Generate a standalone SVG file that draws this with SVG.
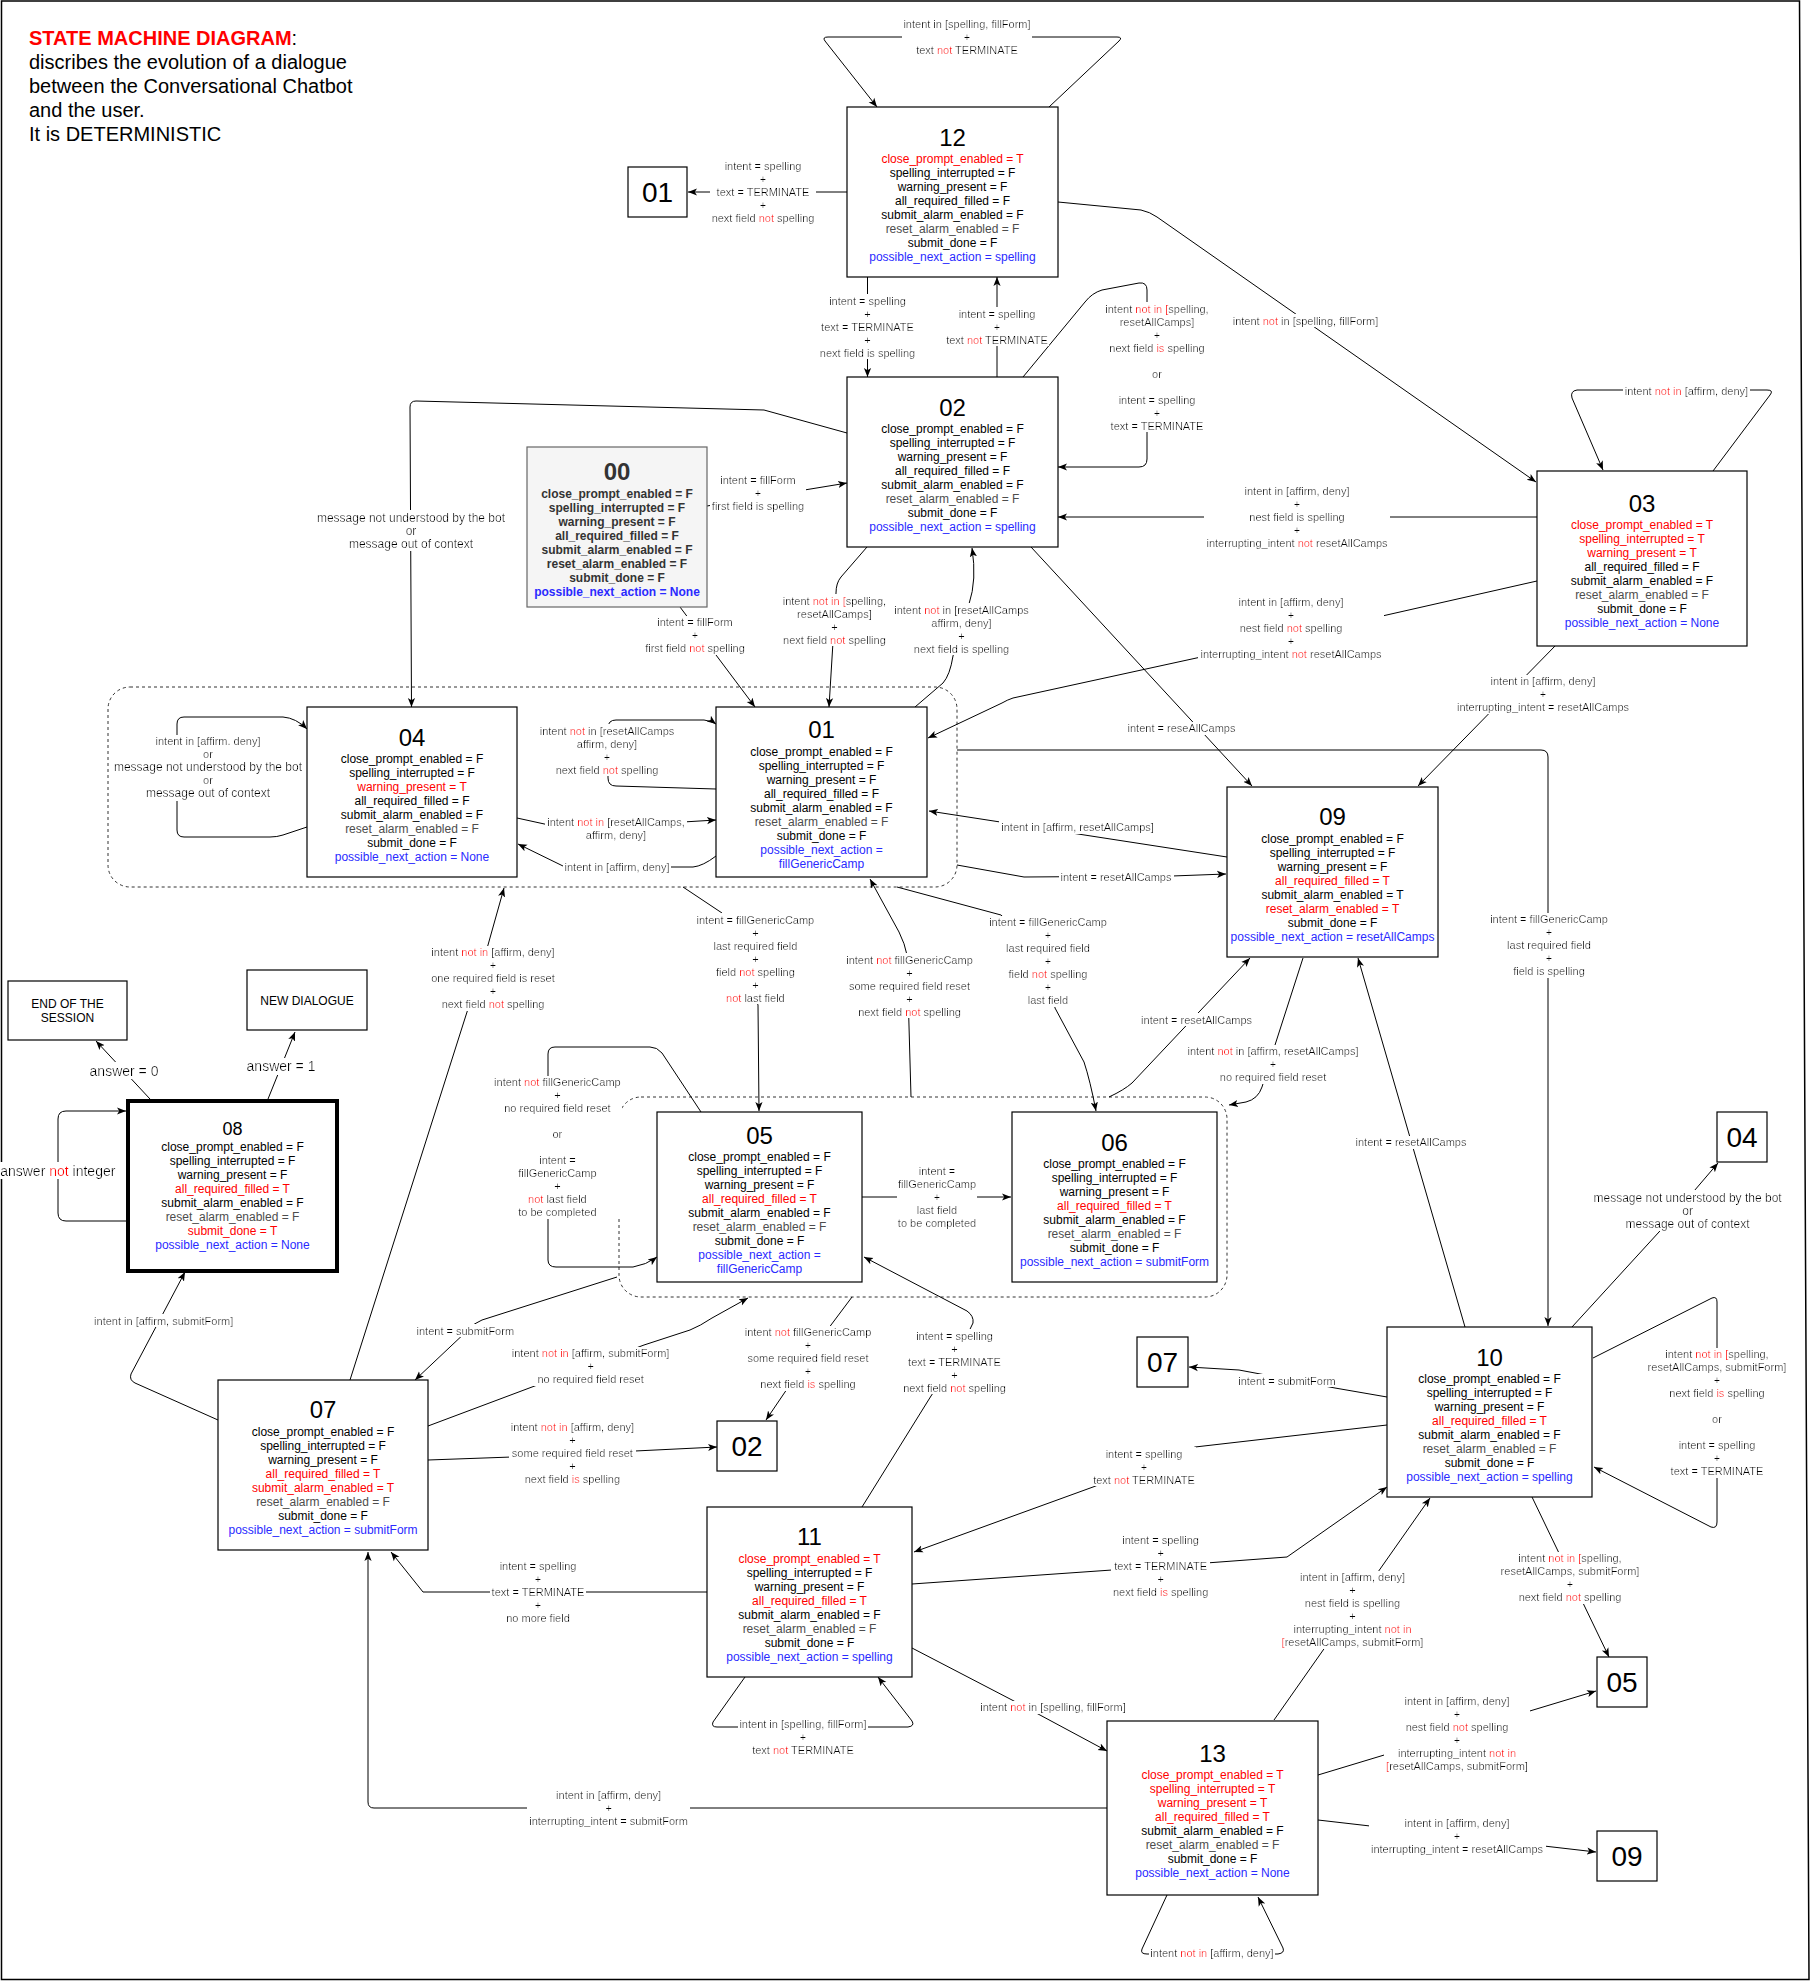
<svg xmlns="http://www.w3.org/2000/svg" width="1812" height="1981" viewBox="0 0 1812 1981">
<defs>
<style>
text{font-family:"Liberation Sans",Arial,sans-serif;fill:#000}
.frame{fill:#fff;stroke:#000;stroke-width:1.5}
.grp{fill:none;stroke:#333;stroke-dasharray:3 3}
.box rect{fill:#fff;stroke:#000;stroke-width:1.2}
.c path{fill:none;stroke:#000;stroke-width:1;marker-end:url(#ah)}
.t{font-size:24px;text-anchor:middle}
.s{font-size:28px;text-anchor:middle}
.a{font-size:12px;text-anchor:middle}
.l{font-size:11px;text-anchor:middle;filter:url(#bg)}
.m{font-size:12px}
.k{font-size:14px}
.r{fill:#ff0000}
.b{fill:#2a2aff}
.g{fill:#4d4d4d}
.h{font-size:20px}
</style>
<filter id="bg" x="-0.01" y="0" width="1.02" height="1"><feFlood flood-color="#fff"/><feComposite in="SourceGraphic" operator="over"/></filter>
<marker id="ah" viewBox="0 0 10 10" refX="10" refY="5" markerWidth="9" markerHeight="9" markerUnits="userSpaceOnUse" orient="auto"><path d="M0,1 L10,5 L0,9 L2.5,5 z" fill="#000"/></marker>
</defs>
<polygon class="frame" points="1.5,1 1799.5,1 1809,1979.5 1.5,1979.5"/>
<g id="heading">
<text class="h" x="29" y="44.5"><tspan class="r" font-weight="bold">STATE MACHINE DIAGRAM</tspan>:<tspan x="29" dy="24">discribes the evolution of a dialogue</tspan><tspan x="29" dy="24">between the Conversational Chatbot</tspan><tspan x="29" dy="24">and the user.</tspan><tspan x="29" dy="24">It is DETERMINISTIC</tspan></text>
</g>
<g id="groups">
<rect class="grp" x="108" y="687" width="849" height="200" rx="22"/>
<rect class="grp" x="619" y="1097" width="608" height="200" rx="22"/>
</g>
<g id="connectors" class="c">
<path d="M1049,107 L1119,41 Q1123,37 1117,37 L828,37 Q822,37 825,41 L877,107"/>
<path d="M847,192 L688,192"/>
<path d="M867.5,277 L867.5,377"/>
<path d="M997,377 L997,277"/>
<path d="M1023,377 L1085,302 Q1092,293 1102,290 L1139,283 Q1147,282 1147,290 L1147,459 Q1147,467 1139,467 L1058,467"/>
<path d="M847,433 L764,410 L416,401 Q410,401 410,407 L411.5,707"/>
<path d="M307,827 L283,835 Q277,837 270,837 L184,837 Q177,837 177,830 L177,724 Q177,717 184,717 L283,717 Q296,718 307,729"/>
<path d="M707,506 L847,483"/>
<path d="M680,607 L755,707"/>
<path d="M867,547 L841,577 Q836,583 836,593 L829,707"/>
<path d="M915,707 L943,683 Q950,675 953,656 L969,604 Q977,580 972,548"/>
<path d="M1058,202 L1141,210 Q1150,212 1157,217 L1536,482"/>
<path d="M1713,471 L1770,395 Q1774,390 1767,390 L1577,390 Q1570,391 1572,398 L1603,470"/>
<path d="M1537,517 L1058,517"/>
<path d="M1537,581 L1201,657 L1013,698 Q1007,700 1002,703 L928,738"/>
<path d="M1031,547 L1252,786"/>
<path d="M1556,645 L1418,786"/>
<path d="M1227,857 L929,811"/>
<path d="M957,865 L1024,877 L1172,876 L1226,874"/>
<path d="M957,750 L1541,750 Q1548,750 1548,757 L1548,1326"/>
<path d="M683,887 L722,913 L758,1005 L759,1111"/>
<path d="M911,1097 L907,955 Q905,944 899,932 L870,879"/>
<path d="M897,887 L1001,915 L1048,960 L1055,1008 L1084,1062 Q1090,1080 1096,1111"/>
<path d="M862,1197 L1011,1197"/>
<path d="M701,1112 L662,1053 Q657,1047 650,1047 L555,1047 Q548,1047 548,1054 L548,1260 Q548,1267 556,1267 L633,1267 Q646,1265 657,1257"/>
<path d="M617,1277 L482,1320 Q474,1323 468,1330 L415,1380"/>
<path d="M428,1426 L644,1345 L690,1330 Q700,1326 712,1318 L748,1298"/>
<path d="M428,1460 L512,1457 L717,1447"/>
<path d="M852,1297 L831,1325 L785,1392 L766,1420"/>
<path d="M862,1507 L931,1396 L955,1360 L973,1323 Q974,1316 967,1311 L864,1257"/>
<path d="M1387,1397 L1335,1388 L1239,1370 L1189,1367"/>
<path d="M1387,1425 L1195,1447 L1093,1487 L914,1552"/>
<path d="M912,1584 L1112,1570 L1287,1557 L1387,1487"/>
<path d="M1465,1327 L1358,958"/>
<path d="M1109,1097 Q1124,1090 1132,1083 L1250,958"/>
<path d="M1303,958 L1275,1045 L1262,1087 Q1258,1099 1246,1102 L1229,1105"/>
<path d="M1572,1327 L1659,1232 L1718,1163"/>
<path d="M1593,1358 L1712,1298 Q1717,1296 1717,1302 L1717,1522 Q1717,1529 1711,1527 L1594,1467"/>
<path d="M1532,1497 L1609,1657"/>
<path d="M1274,1720 L1430,1498"/>
<path d="M1318,1775 L1596,1691"/>
<path d="M1318,1820 L1596,1852"/>
<path d="M1167,1895 L1142,1949 Q1140,1954 1147,1954 L1278,1954 Q1285,1953 1283,1948 L1258,1897"/>
<path d="M912,1648 L1012,1700 L1107,1751"/>
<path d="M745,1677 L713,1722 Q711,1727 717,1727 L908,1727 Q915,1726 912,1721 L878,1677"/>
<path d="M707,1592 L423,1592 L391,1552"/>
<path d="M1107,1808 L374,1808 Q368,1808 368,1802 L368,1552"/>
<path d="M218,1420 L135,1383 Q129,1380 131,1374 L185,1272"/>
<path d="M128,1221 L66,1221 Q58,1221 58,1213 L58,1119 Q58,1111 66,1111 L126,1111"/>
<path d="M150,1099 L96,1041"/>
<path d="M268,1099 L295,1032"/>
<path d="M350,1380 L467,1012 L488,945 L504,888"/>
<path d="M517,818 L549,825 L683,822 L716,820"/>
<path d="M716,856 Q703,866 693,867 L565,867 L518,844"/>
<path d="M716,789 L616,786 Q608,786 608,778 L608,728 Q608,720 616,720 L704,720 Q712,721 716,724"/>
</g>
<g id="n12" class="box"><rect x="847" y="107" width="211" height="170"/><text class="t" x="952.5" y="145.7">12</text><text class="a" x="952.5" y="162.9"><tspan class="r">close_prompt_enabled = T</tspan><tspan x="952.5" dy="14">spelling_interrupted = F</tspan><tspan x="952.5" dy="14">warning_present = F</tspan><tspan x="952.5" dy="14">all_required_filled = F</tspan><tspan x="952.5" dy="14">submit_alarm_enabled = F</tspan><tspan x="952.5" dy="14" class="g">reset_alarm_enabled = F</tspan><tspan x="952.5" dy="14">submit_done = F</tspan><tspan x="952.5" dy="14" class="b">possible_next_action = spelling</tspan></text></g>
<g id="n02" class="box"><rect x="847" y="377" width="211" height="170"/><text class="t" x="952.5" y="415.7">02</text><text class="a" x="952.5" y="432.9"><tspan>close_prompt_enabled = F</tspan><tspan x="952.5" dy="14">spelling_interrupted = F</tspan><tspan x="952.5" dy="14">warning_present = F</tspan><tspan x="952.5" dy="14">all_required_filled = F</tspan><tspan x="952.5" dy="14">submit_alarm_enabled = F</tspan><tspan x="952.5" dy="14" class="g">reset_alarm_enabled = F</tspan><tspan x="952.5" dy="14">submit_done = F</tspan><tspan x="952.5" dy="14" class="b">possible_next_action = spelling</tspan></text></g>
<g id="n00" class="box"><rect x="527" y="447" width="180" height="160" style="fill:#f5f5f5;stroke:#666"/><text class="t" x="617" y="480.1" font-weight="bold" style="fill:#333">00</text><text class="a" x="617" y="497.5" font-weight="bold" style="fill:#333"><tspan>close_prompt_enabled = F</tspan><tspan x="617" dy="14">spelling_interrupted = F</tspan><tspan x="617" dy="14">warning_present = F</tspan><tspan x="617" dy="14">all_required_filled = F</tspan><tspan x="617" dy="14">submit_alarm_enabled = F</tspan><tspan x="617" dy="14">reset_alarm_enabled = F</tspan><tspan x="617" dy="14">submit_done = F</tspan><tspan x="617" dy="14" class="b">possible_next_action = None</tspan></text></g>
<g id="n01" class="box"><rect x="716" y="707" width="211" height="170"/><text class="t" x="821.5" y="738.4">01</text><text class="a" x="821.5" y="755.9"><tspan>close_prompt_enabled = F</tspan><tspan x="821.5" dy="14">spelling_interrupted = F</tspan><tspan x="821.5" dy="14">warning_present = F</tspan><tspan x="821.5" dy="14">all_required_filled = F</tspan><tspan x="821.5" dy="14">submit_alarm_enabled = F</tspan><tspan x="821.5" dy="14" class="g">reset_alarm_enabled = F</tspan><tspan x="821.5" dy="14">submit_done = F</tspan><tspan x="821.5" dy="14" class="b">possible_next_action =</tspan><tspan x="821.5" dy="14" class="b">fillGenericCamp</tspan></text></g>
<g id="n04" class="box"><rect x="307" y="707" width="210" height="170"/><text class="t" x="412" y="745.7">04</text><text class="a" x="412" y="762.9"><tspan>close_prompt_enabled = F</tspan><tspan x="412" dy="14">spelling_interrupted = F</tspan><tspan x="412" dy="14" class="r">warning_present = T</tspan><tspan x="412" dy="14">all_required_filled = F</tspan><tspan x="412" dy="14">submit_alarm_enabled = F</tspan><tspan x="412" dy="14" class="g">reset_alarm_enabled = F</tspan><tspan x="412" dy="14">submit_done = F</tspan><tspan x="412" dy="14" class="b">possible_next_action = None</tspan></text></g>
<g id="n03" class="box"><rect x="1537" y="471" width="210" height="175"/><text class="t" x="1642" y="511.7">03</text><text class="a" x="1642" y="528.9"><tspan class="r">close_prompt_enabled = T</tspan><tspan x="1642" dy="14" class="r">spelling_interrupted = T</tspan><tspan x="1642" dy="14" class="r">warning_present = T</tspan><tspan x="1642" dy="14">all_required_filled = F</tspan><tspan x="1642" dy="14">submit_alarm_enabled = F</tspan><tspan x="1642" dy="14" class="g">reset_alarm_enabled = F</tspan><tspan x="1642" dy="14">submit_done = F</tspan><tspan x="1642" dy="14" class="b">possible_next_action = None</tspan></text></g>
<g id="n09" class="box"><rect x="1227" y="787" width="211" height="170"/><text class="t" x="1332.5" y="825.1">09</text><text class="a" x="1332.5" y="842.9"><tspan>close_prompt_enabled = F</tspan><tspan x="1332.5" dy="14">spelling_interrupted = F</tspan><tspan x="1332.5" dy="14">warning_present = F</tspan><tspan x="1332.5" dy="14" class="r">all_required_filled = T</tspan><tspan x="1332.5" dy="14">submit_alarm_enabled = T</tspan><tspan x="1332.5" dy="14" class="r">reset_alarm_enabled = T</tspan><tspan x="1332.5" dy="14">submit_done = F</tspan><tspan x="1332.5" dy="14" class="b">possible_next_action = resetAllCamps</tspan></text></g>
<g id="n05" class="box"><rect x="657" y="1112" width="205" height="170"/><text class="t" x="759.5" y="1143.7">05</text><text class="a" x="759.5" y="1160.9"><tspan>close_prompt_enabled = F</tspan><tspan x="759.5" dy="14">spelling_interrupted = F</tspan><tspan x="759.5" dy="14">warning_present = F</tspan><tspan x="759.5" dy="14" class="r">all_required_filled = T</tspan><tspan x="759.5" dy="14">submit_alarm_enabled = F</tspan><tspan x="759.5" dy="14" class="g">reset_alarm_enabled = F</tspan><tspan x="759.5" dy="14">submit_done = F</tspan><tspan x="759.5" dy="14" class="b">possible_next_action =</tspan><tspan x="759.5" dy="14" class="b">fillGenericCamp</tspan></text></g>
<g id="n06" class="box"><rect x="1012" y="1112" width="205" height="170"/><text class="t" x="1114.5" y="1150.7">06</text><text class="a" x="1114.5" y="1167.9"><tspan>close_prompt_enabled = F</tspan><tspan x="1114.5" dy="14">spelling_interrupted = F</tspan><tspan x="1114.5" dy="14">warning_present = F</tspan><tspan x="1114.5" dy="14" class="r">all_required_filled = T</tspan><tspan x="1114.5" dy="14">submit_alarm_enabled = F</tspan><tspan x="1114.5" dy="14" class="g">reset_alarm_enabled = F</tspan><tspan x="1114.5" dy="14">submit_done = F</tspan><tspan x="1114.5" dy="14" class="b">possible_next_action = submitForm</tspan></text></g>
<g id="n08" class="box"><rect x="128" y="1101" width="209" height="170" style="stroke-width:4"/><text class="t" x="232.5" y="1134.6" style="font-size:18px">08</text><text class="a" x="232.5" y="1150.9"><tspan>close_prompt_enabled = F</tspan><tspan x="232.5" dy="14">spelling_interrupted = F</tspan><tspan x="232.5" dy="14">warning_present = F</tspan><tspan x="232.5" dy="14" class="r">all_required_filled = T</tspan><tspan x="232.5" dy="14">submit_alarm_enabled = F</tspan><tspan x="232.5" dy="14" class="g">reset_alarm_enabled = F</tspan><tspan x="232.5" dy="14" class="r">submit_done = T</tspan><tspan x="232.5" dy="14" class="b">possible_next_action = None</tspan></text></g>
<g id="n07" class="box"><rect x="218" y="1380" width="210" height="170"/><text class="t" x="323" y="1418.4">07</text><text class="a" x="323" y="1435.9"><tspan>close_prompt_enabled = F</tspan><tspan x="323" dy="14">spelling_interrupted = F</tspan><tspan x="323" dy="14">warning_present = F</tspan><tspan x="323" dy="14" class="r">all_required_filled = T</tspan><tspan x="323" dy="14" class="r">submit_alarm_enabled = T</tspan><tspan x="323" dy="14" class="g">reset_alarm_enabled = F</tspan><tspan x="323" dy="14">submit_done = F</tspan><tspan x="323" dy="14" class="b">possible_next_action = submitForm</tspan></text></g>
<g id="n10" class="box"><rect x="1387" y="1327" width="205" height="170"/><text class="t" x="1489.5" y="1366.1">10</text><text class="a" x="1489.5" y="1382.9"><tspan>close_prompt_enabled = F</tspan><tspan x="1489.5" dy="14">spelling_interrupted = F</tspan><tspan x="1489.5" dy="14">warning_present = F</tspan><tspan x="1489.5" dy="14" class="r">all_required_filled = T</tspan><tspan x="1489.5" dy="14">submit_alarm_enabled = F</tspan><tspan x="1489.5" dy="14" class="g">reset_alarm_enabled = F</tspan><tspan x="1489.5" dy="14">submit_done = F</tspan><tspan x="1489.5" dy="14" class="b">possible_next_action = spelling</tspan></text></g>
<g id="n11" class="box"><rect x="707" y="1507" width="205" height="170"/><text class="t" x="809.5" y="1545.1">11</text><text class="a" x="809.5" y="1562.9"><tspan class="r">close_prompt_enabled = T</tspan><tspan x="809.5" dy="14">spelling_interrupted = F</tspan><tspan x="809.5" dy="14">warning_present = F</tspan><tspan x="809.5" dy="14" class="r">all_required_filled = T</tspan><tspan x="809.5" dy="14">submit_alarm_enabled = F</tspan><tspan x="809.5" dy="14" class="g">reset_alarm_enabled = F</tspan><tspan x="809.5" dy="14">submit_done = F</tspan><tspan x="809.5" dy="14" class="b">possible_next_action = spelling</tspan></text></g>
<g id="n13" class="box"><rect x="1107" y="1721" width="211" height="174"/><text class="t" x="1212.5" y="1761.7">13</text><text class="a" x="1212.5" y="1779.2"><tspan class="r">close_prompt_enabled = T</tspan><tspan x="1212.5" dy="14" class="r">spelling_interrupted = T</tspan><tspan x="1212.5" dy="14" class="r">warning_present = T</tspan><tspan x="1212.5" dy="14" class="r">all_required_filled = T</tspan><tspan x="1212.5" dy="14">submit_alarm_enabled = F</tspan><tspan x="1212.5" dy="14" class="g">reset_alarm_enabled = F</tspan><tspan x="1212.5" dy="14">submit_done = F</tspan><tspan x="1212.5" dy="14" class="b">possible_next_action = None</tspan></text></g>
<g id="ref01" class="box"><rect x="628" y="167" width="59" height="50"/><text class="s" x="657.5" y="201.8">01</text></g>
<g id="ref02" class="box"><rect x="717" y="1421" width="60" height="50"/><text class="s" x="747" y="1455.8">02</text></g>
<g id="ref07" class="box"><rect x="1137" y="1337" width="51" height="50"/><text class="s" x="1162.5" y="1371.8">07</text></g>
<g id="ref04" class="box"><rect x="1717" y="1112" width="50" height="50"/><text class="s" x="1742" y="1146.8">04</text></g>
<g id="ref05" class="box"><rect x="1597" y="1657" width="50" height="50"/><text class="s" x="1622" y="1691.8">05</text></g>
<g id="ref09" class="box"><rect x="1597" y="1831" width="60" height="50"/><text class="s" x="1627" y="1865.8">09</text></g>
<g id="end" class="box"><rect x="8" y="981" width="119" height="59"/><text class="a" x="67.5" y="1007.5">END OF THE<tspan x="67.5" dy="14">SESSION</tspan></text></g>
<g id="new" class="box"><rect x="247" y="970" width="120" height="60"/><text class="a" x="307" y="1004.9">NEW DIALOGUE</text></g>
<g id="connector-labels">
<text class="l" x="967" y="28.2">intent in [spelling, fillForm]<tspan x="967" dy="13">+</tspan><tspan x="967" dy="13">text  <tspan class="r">not</tspan> TERMINATE</tspan></text>
<text class="l" x="763" y="169.9">intent = spelling<tspan x="763" dy="13">+</tspan><tspan x="763" dy="13">text = TERMINATE</tspan><tspan x="763" dy="13">+</tspan><tspan x="763" dy="13">next field <tspan class="r">not</tspan> spelling</tspan></text>
<text class="l" x="867.5" y="304.9">intent = spelling<tspan x="867.5" dy="13">+</tspan><tspan x="867.5" dy="13">text = TERMINATE</tspan><tspan x="867.5" dy="13">+</tspan><tspan x="867.5" dy="13">next field is spelling</tspan></text>
<text class="l" x="997" y="317.9">intent = spelling<tspan x="997" dy="13">+</tspan><tspan x="997" dy="13">text <tspan class="r">not</tspan> TERMINATE</tspan></text>
<text class="l" x="1157" y="312.9">intent <tspan class="r">not in [</tspan>spelling,<tspan x="1157" dy="13">resetAllCamps]</tspan><tspan x="1157" dy="13">+</tspan><tspan x="1157" dy="13">next field <tspan class="r">is</tspan> spelling</tspan><tspan x="1157" dy="26">or</tspan><tspan x="1157" dy="26">intent = spelling</tspan><tspan x="1157" dy="13">+</tspan><tspan x="1157" dy="13">text = TERMINATE</tspan></text>
<text class="l m" x="411" y="521.5">message not understood by the bot<tspan x="411" dy="13">or</tspan><tspan x="411" dy="13">message out of context</tspan></text>
<text class="l" x="208" y="745.2">intent in [affirm. deny]<tspan x="208" dy="13">or</tspan><tspan x="208" dy="13" class="m">message not understood by the bot</tspan><tspan x="208" dy="13">or</tspan><tspan x="208" dy="13" class="m">message out of context</tspan></text>
<text class="l" x="758" y="483.9">intent = fillForm<tspan x="758" dy="13">+</tspan><tspan x="758" dy="13">first field is spelling</tspan></text>
<text class="l" x="695" y="626.2">intent = fillForm<tspan x="695" dy="13">+</tspan><tspan x="695" dy="13">first field <tspan class="r">not</tspan> spelling</tspan></text>
<text class="l" x="834.4" y="604.9">intent <tspan class="r">not in [</tspan>spelling,<tspan x="834.4" dy="13">resetAllCamps]</tspan><tspan x="834.4" dy="13">+</tspan><tspan x="834.4" dy="13">next field <tspan class="r">not</tspan> spelling</tspan></text>
<text class="l" x="961.5" y="613.9">intent <tspan class="r">not</tspan> in [resetAllCamps<tspan x="961.5" dy="13">affirm, deny]</tspan><tspan x="961.5" dy="13">+</tspan><tspan x="961.5" dy="13">next field is spelling</tspan></text>
<text class="l" x="1305.5" y="324.9">intent <tspan class="r">not</tspan> in [spelling, fillForm]</text>
<text class="l" x="1686.4" y="394.6">intent <tspan class="r">not in</tspan> [affirm, deny]</text>
<text class="l" x="1297" y="494.9">intent in [affirm, deny]<tspan x="1297" dy="13">+</tspan><tspan x="1297" dy="13">nest field is spelling</tspan><tspan x="1297" dy="13">+</tspan><tspan x="1297" dy="13">interrupting_intent <tspan class="r">not</tspan> resetAllCamps</tspan></text>
<text class="l" x="1291" y="605.9">intent in [affirm, deny]<tspan x="1291" dy="13">+</tspan><tspan x="1291" dy="13">nest field <tspan class="r">not</tspan> spelling</tspan><tspan x="1291" dy="13">+</tspan><tspan x="1291" dy="13">interrupting_intent <tspan class="r">not</tspan> resetAllCamps</tspan></text>
<text class="l" x="1181.5" y="732.2">intent = reseAllCamps</text>
<text class="l" x="1543" y="685.2">intent in [affirm, deny]<tspan x="1543" dy="13">+</tspan><tspan x="1543" dy="13">interrupting_intent = resetAllCamps</tspan></text>
<text class="l" x="1077.6" y="831.2">intent in [affirm, resetAllCamps]</text>
<text class="l" x="1116" y="881.2">intent = resetAllCamps</text>
<text class="l" x="1549" y="923.2">intent = fillGenericCamp<tspan x="1549" dy="13">+</tspan><tspan x="1549" dy="13">last required field</tspan><tspan x="1549" dy="13">+</tspan><tspan x="1549" dy="13">field is spelling</tspan></text>
<text class="l" x="755.4" y="923.9">intent = fillGenericCamp<tspan x="755.4" dy="13">+</tspan><tspan x="755.4" dy="13">last required field</tspan><tspan x="755.4" dy="13">+</tspan><tspan x="755.4" dy="13">field <tspan class="r">not</tspan> spelling</tspan><tspan x="755.4" dy="13">+</tspan><tspan x="755.4" dy="13"><tspan class="r">not</tspan> last field</tspan></text>
<text class="l" x="909.5" y="963.9">intent <tspan class="r">not</tspan> fillGenericCamp<tspan x="909.5" dy="13">+</tspan><tspan x="909.5" dy="13">some required field reset</tspan><tspan x="909.5" dy="13">+</tspan><tspan x="909.5" dy="13">next field <tspan class="r">not</tspan> spelling</tspan></text>
<text class="l" x="1048" y="926.2">intent = fillGenericCamp<tspan x="1048" dy="13">+</tspan><tspan x="1048" dy="13">last required field</tspan><tspan x="1048" dy="13">+</tspan><tspan x="1048" dy="13">field <tspan class="r">not</tspan> spelling</tspan><tspan x="1048" dy="13">+</tspan><tspan x="1048" dy="13">last field</tspan></text>
<text class="l" x="937" y="1175.2">intent =<tspan x="937" dy="13">fillGenericCamp</tspan><tspan x="937" dy="13">+</tspan><tspan x="937" dy="13">last field</tspan><tspan x="937" dy="13">to be completed</tspan></text>
<text class="l" x="557.4" y="1086.2">intent <tspan class="r">not</tspan> fillGenericCamp<tspan x="557.4" dy="13">+</tspan><tspan x="557.4" dy="13">no required field reset</tspan><tspan x="557.4" dy="26">or</tspan><tspan x="557.4" dy="26">intent =</tspan><tspan x="557.4" dy="13">fillGenericCamp</tspan><tspan x="557.4" dy="13">+</tspan><tspan x="557.4" dy="13"><tspan class="r">not</tspan> last field</tspan><tspan x="557.4" dy="13">to be completed</tspan></text>
<text class="l" x="465.3" y="1334.9">intent = submitForm</text>
<text class="l" x="590.6" y="1357.2">intent <tspan class="r">not in</tspan> [affirm, submitForm]<tspan x="590.6" dy="13">+</tspan><tspan x="590.6" dy="13">no required field reset</tspan></text>
<text class="l" x="572.4" y="1431.2">intent <tspan class="r">not in</tspan> [affirm, deny]<tspan x="572.4" dy="13">+</tspan><tspan x="572.4" dy="13">some required field reset</tspan><tspan x="572.4" dy="13">+</tspan><tspan x="572.4" dy="13">next field <tspan class="r">is</tspan> spelling</tspan></text>
<text class="l" x="808" y="1336.2">intent <tspan class="r">not</tspan> fillGenericCamp<tspan x="808" dy="13">+</tspan><tspan x="808" dy="13">some required field reset</tspan><tspan x="808" dy="13">+</tspan><tspan x="808" dy="13">next field <tspan class="r">is</tspan> spelling</tspan></text>
<text class="l" x="954.5" y="1339.9">intent = spelling<tspan x="954.5" dy="13">+</tspan><tspan x="954.5" dy="13">text = TERMINATE</tspan><tspan x="954.5" dy="13">+</tspan><tspan x="954.5" dy="13">next field <tspan class="r">not</tspan> spelling</tspan></text>
<text class="l" x="1287" y="1384.9">intent = submitForm</text>
<text class="l" x="1144" y="1457.9">intent = spelling<tspan x="1144" dy="13">+</tspan><tspan x="1144" dy="13">text <tspan class="r">not</tspan> TERMINATE</tspan></text>
<text class="l" x="1160.6" y="1544.2">intent = spelling<tspan x="1160.6" dy="13">+</tspan><tspan x="1160.6" dy="13">text = TERMINATE</tspan><tspan x="1160.6" dy="13">+</tspan><tspan x="1160.6" dy="13">next field <tspan class="r">is</tspan> spelling</tspan></text>
<text class="l" x="1411" y="1146.2">intent = resetAllCamps</text>
<text class="l" x="1196.6" y="1023.6">intent = resetAllCamps</text>
<text class="l" x="1273" y="1055.2">intent  <tspan class="r">not</tspan> in [affirm, resetAllCamps]<tspan x="1273" dy="13">+</tspan><tspan x="1273" dy="13">no required field reset</tspan></text>
<text class="l m" x="1687.6" y="1201.5">message not understood by the bot<tspan x="1687.6" dy="13">or</tspan><tspan x="1687.6" dy="13">message out of context</tspan></text>
<text class="l" x="1717" y="1358.2">intent <tspan class="r">not in [</tspan>spelling,<tspan x="1717" dy="13">resetAllCamps, submitForm]</tspan><tspan x="1717" dy="13">+</tspan><tspan x="1717" dy="13">next field <tspan class="r">is</tspan> spelling</tspan><tspan x="1717" dy="26">or</tspan><tspan x="1717" dy="26">intent = spelling</tspan><tspan x="1717" dy="13">+</tspan><tspan x="1717" dy="13">text = TERMINATE</tspan></text>
<text class="l" x="1570" y="1562.2">intent <tspan class="r">not in [</tspan>spelling,<tspan x="1570" dy="13">resetAllCamps, submitForm]</tspan><tspan x="1570" dy="13">+</tspan><tspan x="1570" dy="13">next field <tspan class="r">not</tspan> spelling</tspan></text>
<text class="l" x="1352.5" y="1581.2">intent in [affirm, deny]<tspan x="1352.5" dy="13">+</tspan><tspan x="1352.5" dy="13">nest field is spelling</tspan><tspan x="1352.5" dy="13">+</tspan><tspan x="1352.5" dy="13">interrupting_intent <tspan class="r">not in</tspan></tspan><tspan x="1352.5" dy="13"><tspan class="r">[</tspan>resetAllCamps, submitForm]</tspan></text>
<text class="l" x="1457" y="1704.9">intent in [affirm, deny]<tspan x="1457" dy="13">+</tspan><tspan x="1457" dy="13">nest field <tspan class="r">not</tspan> spelling</tspan><tspan x="1457" dy="13">+</tspan><tspan x="1457" dy="13">interrupting_intent <tspan class="r">not in</tspan></tspan><tspan x="1457" dy="13"><tspan class="r">[</tspan>resetAllCamps, submitForm]</tspan></text>
<text class="l" x="1457" y="1827.2">intent in [affirm, deny]<tspan x="1457" dy="13">+</tspan><tspan x="1457" dy="13">interrupting_intent = resetAllCamps</tspan></text>
<text class="l" x="1212" y="1957.4">intent <tspan class="r">not in</tspan> [affirm, deny]</text>
<text class="l" x="1053" y="1711.2">intent <tspan class="r">not</tspan> in [spelling, fillForm]</text>
<text class="l" x="803" y="1727.9">intent in [spelling, fillForm]<tspan x="803" dy="13">+</tspan><tspan x="803" dy="13">text  <tspan class="r">not</tspan> TERMINATE</tspan></text>
<text class="l" x="538" y="1569.9">intent = spelling<tspan x="538" dy="13">+</tspan><tspan x="538" dy="13">text = TERMINATE</tspan><tspan x="538" dy="13">+</tspan><tspan x="538" dy="13">no more field</tspan></text>
<text class="l" x="608.6" y="1798.9">intent in [affirm, deny]<tspan x="608.6" dy="13">+</tspan><tspan x="608.6" dy="13">interrupting_intent = submitForm</tspan></text>
<text class="l" x="163.7" y="1324.9">intent in [affirm, submitForm]</text>
<text class="l k" x="57.8" y="1175.9">answer <tspan class="r">not</tspan> integer</text>
<text class="l k" x="124" y="1075.9">answer = 0</text>
<text class="l k" x="281" y="1071.2">answer = 1</text>
<text class="l" x="493" y="956.2">intent <tspan class="r">not in</tspan> [affirm, deny]<tspan x="493" dy="13">+</tspan><tspan x="493" dy="13">one required field is reset</tspan><tspan x="493" dy="13">+</tspan><tspan x="493" dy="13">next field <tspan class="r">not</tspan> spelling</tspan></text>
<text class="l" x="616" y="826.2">intent <tspan class="r">not in</tspan> [resetAllCamps,<tspan x="616" dy="13">affirm, deny]</tspan></text>
<text class="l" x="617" y="870.6">intent in [affirm, deny]</text>
<text class="l" x="607" y="734.9">intent <tspan class="r">not</tspan> in [resetAllCamps<tspan x="607" dy="13">affirm, deny]</tspan><tspan x="607" dy="13">+</tspan><tspan x="607" dy="13">next field <tspan class="r">not</tspan> spelling</tspan></text>
</g>
</svg>
